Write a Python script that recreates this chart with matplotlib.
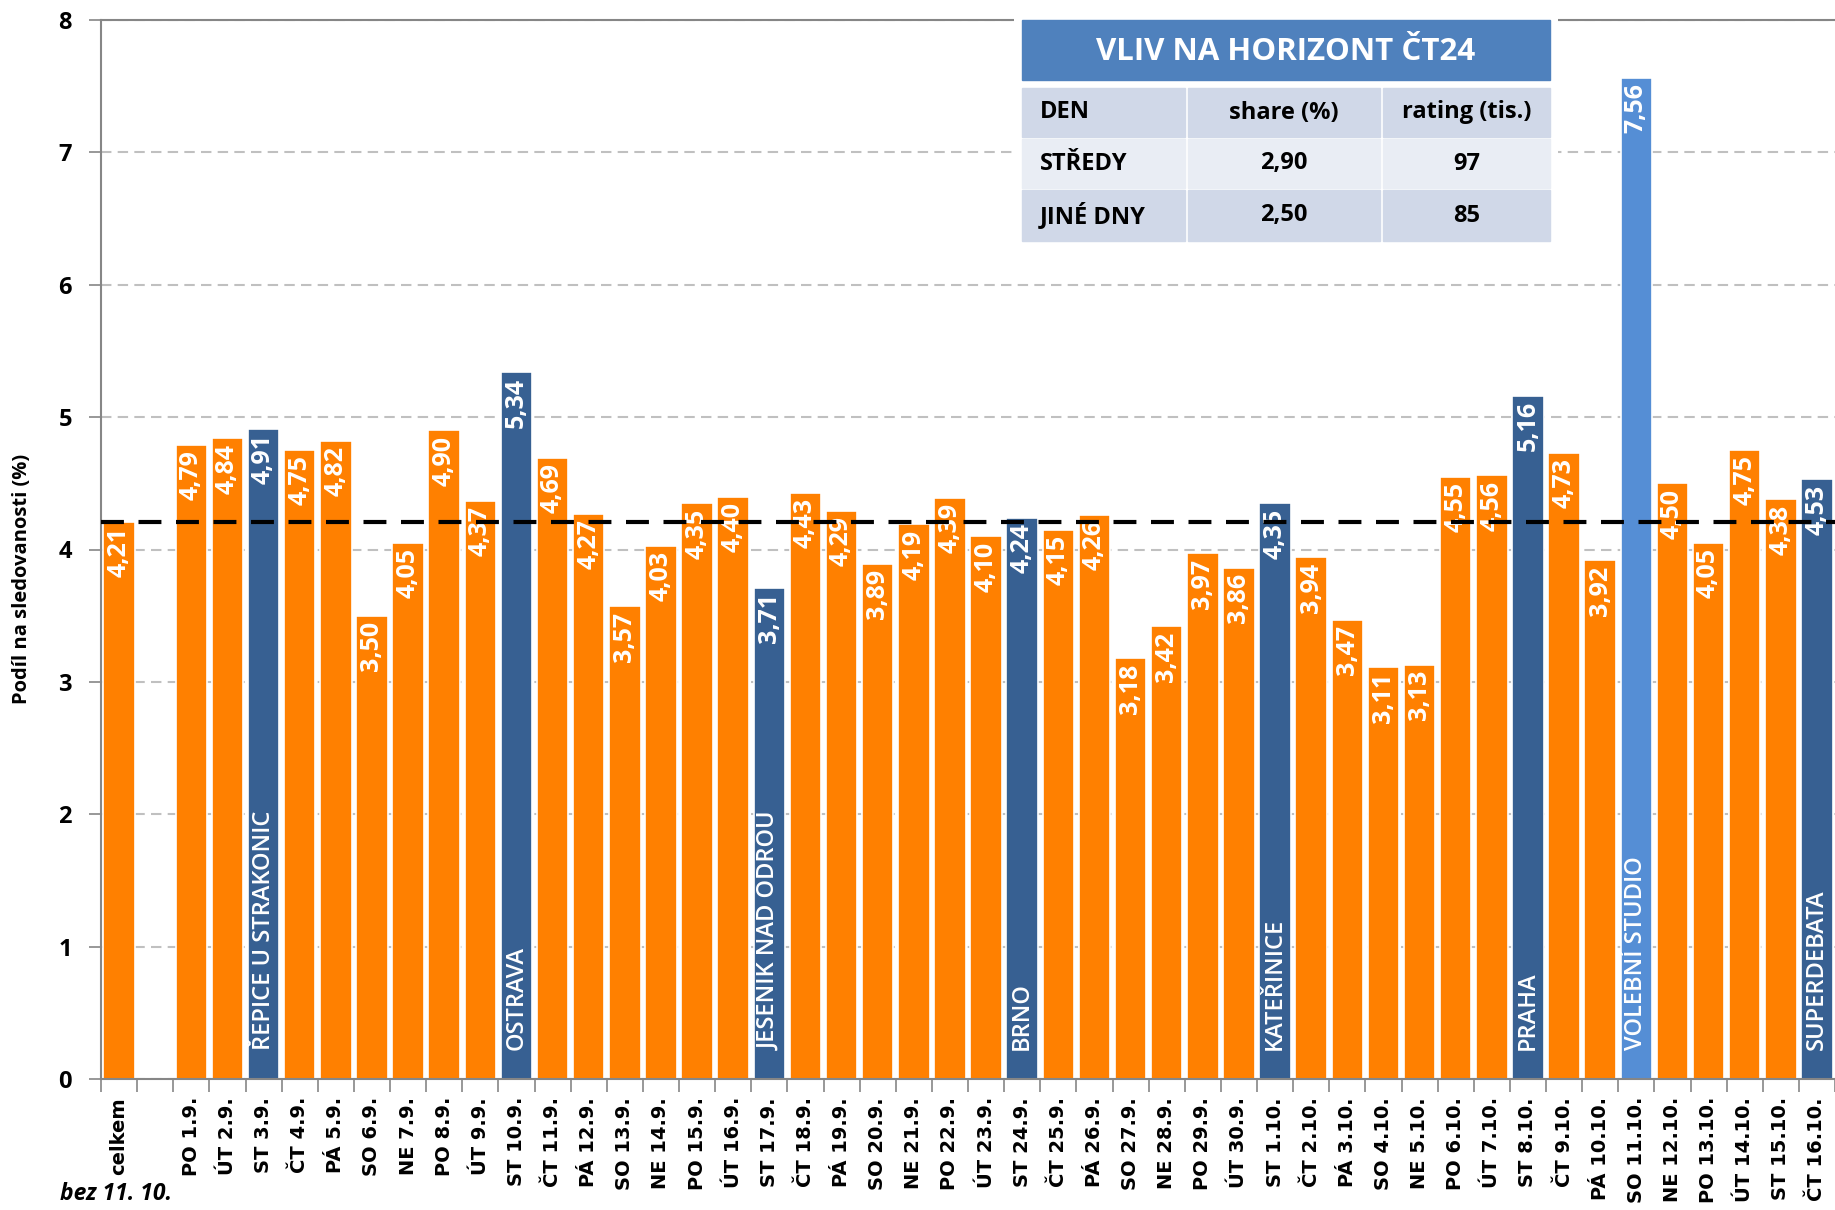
import numpy as np
import matplotlib.pyplot as plt
from matplotlib.patches import Rectangle

plt.rcParams['font.family'] = ['Open Sans', 'DejaVu Sans']

# data
days = ["celkem", "",
        "PO 1.9.", "ÚT 2.9.", "ST 3.9.", "ČT 4.9.", "PÁ 5.9.", "SO 6.9.", "NE 7.9.",
        "PO 8.9.", "ÚT 9.9.", "ST 10.9.", "ČT 11.9.", "PÁ 12.9.", "SO 13.9.", "NE 14.9.",
        "PO 15.9.", "ÚT 16.9.", "ST 17.9.", "ČT 18.9.", "PÁ 19.9.", "SO 20.9.", "NE 21.9.",
        "PO 22.9.", "ÚT 23.9.", "ST 24.9.", "ČT 25.9.", "PÁ 26.9.", "SO 27.9.", "NE 28.9.",
        "PO 29.9.", "ÚT 30.9.", "ST 1.10.", "ČT 2.10.", "PÁ 3.10.", "SO 4.10.", "NE 5.10.",
        "PO 6.10.", "ÚT 7.10.", "ST 8.10.", "ČT 9.10.", "PÁ 10.10.", "SO 11.10.", "NE 12.10.",
        "PO 13.10.", "ÚT 14.10.", "ST 15.10.", "ČT 16.10."]
share = [4.21, np.nan,
         4.79, 4.84, 4.91, 4.75, 4.82, 3.50, 4.05,
         4.90, 4.37, 5.34, 4.69, 4.27, 3.57, 4.03,
         4.35, 4.40, 3.71, 4.43, 4.29, 3.89, 4.19,
         4.39, 4.10, 4.24, 4.15, 4.26, 3.18, 3.42,
         3.97, 3.86, 4.35, 3.94, 3.47, 3.11, 3.13,
         4.55, 4.56, 5.16, 4.73, 3.92, 7.56, 4.50,
         4.05, 4.75, 4.38, 4.53]
events = {"ST 3.9.": "ŘEPICE U STRAKONIC",
          "ST 10.9.": "OSTRAVA",
          "ST 17.9.": "JESENIK NAD ODROU",
          "ST 24.9.": "BRNO",
          "ST 1.10.": "KATEŘINICE",
          "ST 8.10.": "PRAHA",
          "SO 11.10.": "VOLEBNÍ STUDIO",
          "ČT 16.10.": "SUPERDEBATA"}
special_day = "SO 11.10."
note = "bez 11. 10."

table_title = "VLIV NA HORIZONT ČT24"
table_header = ["DEN", "share (%)", "rating (tis.)"]
table_rows = [["STŘEDY", "2,90", "97"],
              ["JINÉ DNY", "2,50", "85"]]

ORANGE = "#FF8000"
DARK = "#376092"
LIGHT = "#558ED5"

W, H = 1835, 1210
fig = plt.figure(figsize=(W / 100, H / 100), dpi=100)
ax = fig.add_axes([101 / W, 1 - 1079 / H, 1 - 101 / W, (1079 - 20) / H])

x = np.arange(len(days))
colors = []
for d in days:
    if d == special_day:
        colors.append(LIGHT)
    elif d in events:
        colors.append(DARK)
    else:
        colors.append(ORANGE)

ax.bar(x, share, width=0.87, color=colors, edgecolor='white', linewidth=1.2, zorder=2)

for xi, d, v in zip(x, days, share):
    if np.isnan(v):
        continue
    ax.text(xi, v - 0.04, f"{v:.2f}".replace('.', ','), rotation=90, ha='center', va='top',
            color='white', fontsize=18, fontweight='bold', zorder=4)
    if d in events:
        ax.text(xi, 0.22, events[d], rotation=90, ha='center', va='bottom',
                color='white', fontsize=17, fontweight='semibold', zorder=4)

ax.axhline(share[0], color='black', lw=3, ls=(0, (5.5, 3.5)), zorder=5)

ax.set_xlim(-0.5, len(days) - 0.5)
ax.set_ylim(0, 8)
ax.set_yticks(range(0, 9))
ax.yaxis.grid(True, color='#C0C0C0', ls=(0, (5, 3)), lw=1.5, zorder=0)
ax.set_axisbelow(True)

ax.set_xticks(x)
ax.set_xticklabels(days, rotation=90, fontsize=14, fontweight='bold', family='DejaVu Sans')
ax.set_xticks(np.arange(-0.5, len(days)), minor=True)
ax.tick_params(axis='x', which='major', length=0, pad=13)
ax.tick_params(axis='x', which='minor', length=9, width=1.2, color='#868686')
ax.tick_params(axis='y', length=9, width=1.2, color='#868686', pad=12, labelsize=17)
for lab in ax.get_yticklabels():
    lab.set_fontweight('bold')

for s in ['left', 'bottom', 'top']:
    ax.spines[s].set_color('#868686')
    ax.spines[s].set_linewidth(1.5)
ax.spines['right'].set_visible(False)

fig.text(22 / W, 1 - 579 / H, "Podíl na sledovanosti (%)", rotation=90, ha='center',
         va='center', fontsize=14.5, fontweight='bold')
fig.text(60 / W, 1 - 1194 / H, note, ha='left', va='center', fontsize=16.5,
         fontweight='bold', style='italic')

# table inset
tl, tt, tr, tb = 1014, 12, 1558, 249
tax = fig.add_axes([tl / W, 1 - tb / H, (tr - tl) / W, (tb - tt) / H])
tax.set_xlim(tl, tr)
tax.set_ylim(tb, tt)
tax.axis('off')
tax.add_patch(Rectangle((tl, tt), tr - tl, tb - tt, color='white', zorder=0))

col_edges = [1022, 1186, 1381, 1550]
tax.add_patch(Rectangle((1022, 20), 528, 60, color='#4F81BD', zorder=1))
tax.text((1022 + 1550) / 2, 52, table_title, ha='center', va='center',
         color='white', fontsize=22.5, fontweight='bold', zorder=2)
row_edges = [(88, 137), (139, 188), (190, 241)]
row_colors = ['#D0D8E8', '#E9EDF4', '#D0D8E8']
for (y0, y1), rc, cells in zip(row_edges, row_colors, [table_header] + table_rows):
    for j, cell in enumerate(cells):
        x0 = col_edges[j] + (0 if j == 0 else 1.5)
        x1 = col_edges[j + 1] - (1.5 if j < 2 else 0)
        tax.add_patch(Rectangle((x0, y0), x1 - x0, y1 - y0, color=rc, zorder=1))
        if j == 0:
            tax.text(x0 + 18, (y0 + y1) / 2, cell, ha='left', va='center',
                     fontsize=17, fontweight='bold', zorder=2)
        else:
            tax.text((x0 + x1) / 2, (y0 + y1) / 2, cell, ha='center', va='center',
                     fontsize=17, fontweight='bold', zorder=2)

fig.savefig("out.png", dpi=100)
